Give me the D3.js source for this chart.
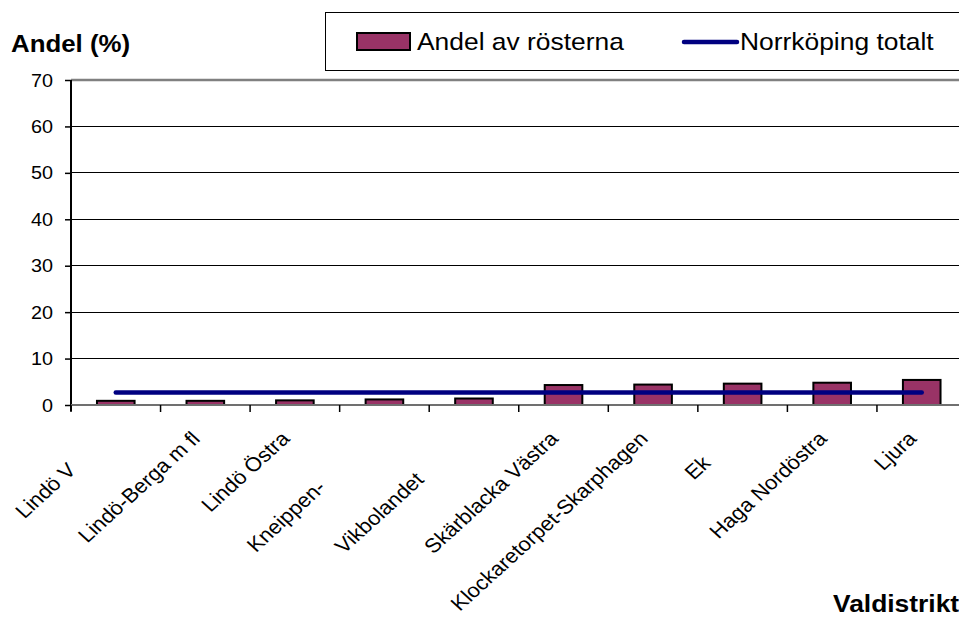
<!DOCTYPE html>
<html>
<head>
<meta charset="utf-8">
<script src="https://cdn.jsdelivr.net/npm/d3@7"></script>
<style>
  html, body { margin: 0; padding: 0; background: #fff; }
  svg { display: block; font-family: Arial, "Liberation Sans", sans-serif; }
</style>
</head>
<body>
<svg id="chart" width="959" height="621"></svg>
<script>
// ---- data ----
const categories = ["Lindö V", "Lindö-Berga m fl", "Lindö Östra", "Kneippen-", "Vikbolandet",
  "Skärblacka Västra", "Klockaretorpet-Skarphagen", "Ek", "Haga Nordöstra", "Ljura"];
// parts of the labels that are cut off in the picture (used only to place the visible part)
const clippedTails = ["ästra", "", "", "Hageby", " Västra", "", "", "torp", "", ""];
const shareValues = [0.9, 0.9, 1.0, 1.2, 1.4, 4.3, 4.4, 4.6, 4.8, 5.4];
const totalValues = [2.7, 2.7, 2.7, 2.7, 2.7, 2.7, 2.7, 2.7, 2.7, 2.7];
const yTicks = [0, 10, 20, 30, 40, 50, 60, 70];
const seriesNames = ["Andel av rösterna", "Norrköping totalt"];
const yTitle = "Andel (%)";
const xTitle = "Valdistrikt";

(function () {
// ---- layout ----
const K = 1.1; // horizontal text stretch seen in the picture
const pLeft = 71, pRight = 966.5, pTop = 80, pBottom = 405;
const barColor = "#993366", lineColor = "#000080";

const svg = d3.select("#chart");

const x = d3.scaleBand().domain(categories).range([pLeft, pRight])
  .paddingInner(0.58).paddingOuter(0.29);
const y = d3.scaleLinear().domain([0, 70]).range([pBottom, pTop]);
const step = x.step();

function txt(g, px, py, str, size, weight, anchor, extra) {
  return g.append("text")
    .attr("transform", `translate(${px},${py}) scale(${K},1)` + (extra || ""))
    .attr("text-anchor", anchor || "start")
    .attr("font-size", size)
    .attr("font-weight", weight || "normal")
    .attr("fill", "#000")
    .text(str);
}

// gridlines (10..60 thin, 70 = plot border grey)
svg.append("g").selectAll("line").data(yTicks.filter(d => d > 0 && d < 70)).join("line")
  .attr("x1", pLeft).attr("x2", 959).attr("y1", d => y(d)).attr("y2", d => y(d))
  .attr("stroke", "#000").attr("stroke-width", 1).attr("shape-rendering", "crispEdges");
svg.append("line").attr("x1", pLeft).attr("x2", 959).attr("y1", y(70)).attr("y2", y(70))
  .attr("stroke", "#808080").attr("stroke-width", 2.5);

// y axis
const yAxis = d3.axisLeft(y).tickValues(yTicks).tickSize(6).tickFormat("");
const yg = svg.append("g").attr("transform", `translate(${pLeft},0)`).call(yAxis);
yg.select(".domain").remove();
yg.selectAll(".tick line").attr("stroke", "#000").attr("stroke-width", 1.5);
svg.append("line").attr("x1", pLeft).attr("x2", pLeft).attr("y1", y(70)).attr("y2", pBottom + 6)
  .attr("stroke", "#000").attr("stroke-width", 2);
const tl = svg.append("g");
yTicks.forEach(v => txt(tl, 53, y(v) + 6.5, String(v), 18, "normal", "end"));

// bars
svg.append("g").selectAll("rect").data(categories).join("rect")
  .attr("x", d => x(d))
  .attr("width", x.bandwidth())
  .attr("y", (d, i) => y(shareValues[i]))
  .attr("height", (d, i) => y(0) - y(shareValues[i]))
  .attr("fill", barColor).attr("stroke", "#000").attr("stroke-width", 2);

// x axis line and ticks at band boundaries
svg.append("line").attr("x1", pLeft).attr("x2", 959).attr("y1", pBottom).attr("y2", pBottom)
  .attr("stroke", "#707070").attr("stroke-width", 2);
const bounds = d3.range(categories.length + 1).map(i => pLeft + i * step);
svg.append("g").selectAll("line").data(bounds).join("line")
  .attr("x1", d => d).attr("x2", d => d).attr("y1", pBottom).attr("y2", pBottom + 7)
  .attr("stroke", "#000").attr("stroke-width", 1.5);

// total line
const line = d3.line().x((d, i) => x(categories[i]) + x.bandwidth() / 2).y(d => y(d));
svg.append("path").datum(totalValues).attr("d", line)
  .attr("fill", "none").attr("stroke", lineColor).attr("stroke-width", 4.5)
  .attr("stroke-linecap", "round");

// category labels
const labelG = svg.append("g");
const labelSize = 20;
function measure(str) {
  if (!str) return 0;
  const t = svg.append("text").attr("font-size", labelSize).text(str);
  const w = t.node().getComputedTextLength();
  t.remove();
  return w;
}
categories.forEach((c, i) => {
  const cx = x(c) + x.bandwidth() / 2 - 4;
  const shift = measure(clippedTails[i]);
  labelG.append("text")
    .attr("transform", `translate(${cx},${440}) scale(${K},1) rotate(-45)`)
    .attr("x", -shift)
    .attr("text-anchor", "end")
    .attr("font-size", labelSize)
    .attr("fill", "#000")
    .text(c);
});

// axis titles
txt(svg, 11, 52, yTitle, 23.5, "bold");
txt(svg, 833, 612, xTitle, 24, "bold");

// legend
svg.append("rect").attr("x", 325.5).attr("y", 12.5).attr("width", 700).attr("height", 58)
  .attr("fill", "#fff").attr("stroke", "#000").attr("stroke-width", 1);
svg.append("rect").attr("x", 357).attr("y", 33).attr("width", 53).attr("height", 17)
  .attr("fill", barColor).attr("stroke", "#000").attr("stroke-width", 2);
txt(svg, 417, 50, seriesNames[0], 24);
svg.append("line").attr("x1", 684).attr("x2", 737).attr("y1", 42).attr("y2", 42)
  .attr("stroke", lineColor).attr("stroke-width", 4.5).attr("stroke-linecap", "round");
txt(svg, 740, 50, seriesNames[1], 24);
})();
</script>
</body>
</html>
